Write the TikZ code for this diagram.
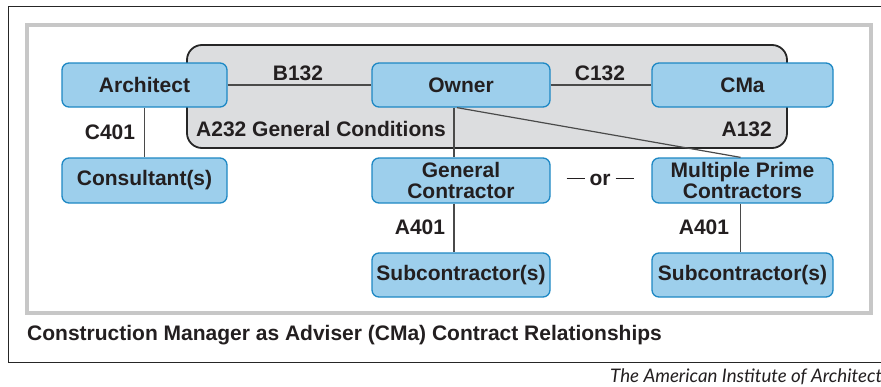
\documentclass[tikz,border=0pt]{standalone}
\usepackage{fontspec}
\setmainfont{Liberation Sans}
\newfontfamily\creditfont{Lato}
\definecolor{boxfill}{HTML}{9DCFEC}
\definecolor{boxline}{HTML}{1E88C4}
\definecolor{panelfill}{HTML}{DCDDDF}
\definecolor{inktext}{HTML}{231F20}
\definecolor{linkgray}{HTML}{4A4A4A}
\begin{document}
\begin{tikzpicture}[x=1pt,y=-1pt,
  party/.style={draw=boxline, fill=boxfill, line width=1.3pt, rounded corners=7pt,
    minimum height=44pt, inner sep=0pt, align=center, text=inktext,
    font=\fontsize{21}{21}\selectfont\bfseries},
  link/.style={draw=linkgray, line width=1.2pt},
  lbl/.style={text=inktext, inner sep=0pt, font=\fontsize{21}{22}\selectfont\bfseries}]
\useasboundingbox (0,0) rectangle (881,386);
\fill[white] (0,0) rectangle (881,386);
% outer frame
\draw[line width=1pt, black!85] (8,6) rectangle (905,362);
% gray inner frame
\draw[line width=4pt, black!22] (27,25) rectangle (871,313);
% general conditions panel
\draw[fill=panelfill, draw=black!85, line width=1.8pt, rounded corners=15pt] (187,45) rectangle (787,148);
% nodes
\node[party, minimum width=165pt] (arch) at (144.5,85) {Architect};
\node[party, minimum width=178pt] (own) at (461,85) {Owner};
\node[party, minimum width=181pt] (cma) at (742.5,85) {CMa};
\node[party, minimum width=165pt, minimum height=45pt] (cons) at (144.5,180.5) {Consultant(s)};
\node[party, minimum width=178pt, minimum height=45pt] (gc) at (461,180.5) {General\\Contractor};
\node[party, minimum width=181pt, minimum height=45pt] (mpc) at (742.5,180.5) {Multiple Prime\\Contractors};
\node[party, minimum width=178pt] (suba) at (461,275) {Subcontractor(s)};
\node[party, minimum width=181pt] (subb) at (742.5,275) {Subcontractor(s)};
% connectors
\draw[link] (arch.east) -- (own.west);
\draw[link] (own.east) -- (cma.west);
\draw[link] (arch.south) -- (cons.north);
\draw[link] ([xshift=-7pt]own.south) -- ([xshift=-7pt]gc.north);
\draw[link] ([xshift=-4pt]own.south) -- ([xshift=-2pt]mpc.north);
\draw[link] ([xshift=-7pt]gc.south) -- ([xshift=-7pt]suba.north);
\draw[link] ([xshift=-2pt]mpc.south) -- ([xshift=-2pt]subb.north);
% labels
\node[lbl] (lb132) at (298,73) {B132};
\node[lbl] (lc132) at (600,73) {C132};
\node[lbl] (lc401) at (110,132) {C401};
\node[lbl, anchor=west] (la232) at (196,129) {A232 General Conditions};
\node[lbl, anchor=east] (la132) at (772,129) {A132};
\node[lbl] (lor) at (600,180) {\rule[0.3em]{18pt}{1.2pt}\hspace{5pt}or\hspace{5pt}\rule[0.3em]{18pt}{1.2pt}};
\node[lbl] (la401a) at (420,227) {A401};
\node[lbl] (la401b) at (704,227) {A401};
% caption
\node[anchor=west, inner sep=0pt, text=inktext, font=\fontsize{21}{22}\selectfont\bfseries] (cap) at (27,335) {Construction Manager as Adviser (CMa) Contract Relationships};
\node[anchor=west, inner sep=0pt, text=inktext, font=\fontsize{18.7}{20}\creditfont\itshape] (credit) at (610,377) {The American Institute of Architects};
\end{tikzpicture}
\end{document}
